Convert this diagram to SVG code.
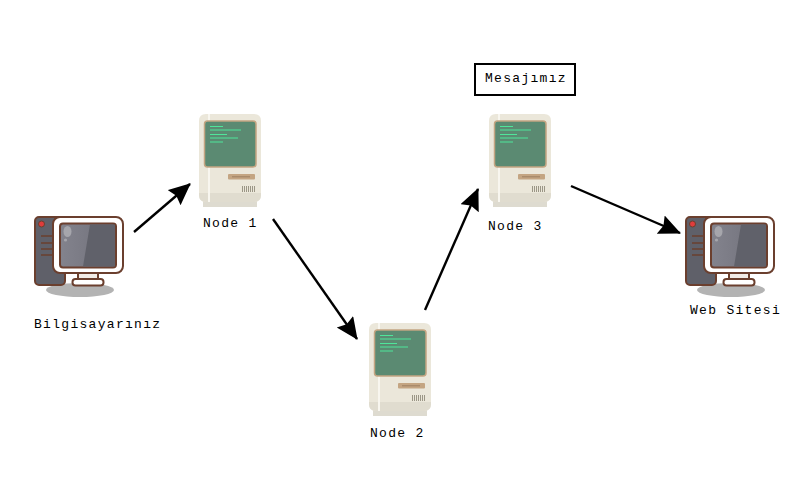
<svg xmlns="http://www.w3.org/2000/svg" xmlns:xlink="http://www.w3.org/1999/xlink" width="800" height="500" viewBox="0 0 800 500">
<style>
.t{font-family:"Liberation Mono",monospace;font-size:13px;fill:#000;letter-spacing:1.3px}
.c{stroke:#000;stroke-width:2.4;fill:none;stroke-linecap:butt}
.b{stroke:#6b3f2e;stroke-width:2;stroke-linejoin:round}
</style>
<defs>
<marker id="a" markerUnits="userSpaceOnUse" markerWidth="24" markerHeight="22" refX="21" refY="10" orient="auto"><path d="M0 0L22 10L0 20L3 10Z" fill="#000"/></marker>
<linearGradient id="g" x1="0" y1="0" x2="1" y2="0"><stop offset="0" stop-color="#83838d"/><stop offset="1" stop-color="#6f6f79"/></linearGradient>
<g id="pc">
<ellipse cx="80" cy="290" rx="34" ry="7" fill="#b3b3b3"/>
<rect class="b" x="35" y="217" width="30" height="68" rx="4" fill="#5f6069"/>
<circle cx="41.500" cy="224" r="3" fill="#e03c3c" stroke="#6b3f2e"/>
<path d="M41 236H53M41 243H53M41 249H53M41 255H53" stroke="#6b3f2e" stroke-width="1.500"/>
<rect class="b" x="78" y="272" width="20" height="9" fill="#f2ece6"/>
<rect class="b" x="72.500" y="279" width="31" height="6.500" rx="3" fill="#fff"/>
<rect class="b" x="53" y="217" width="70" height="56" rx="7" fill="#fff"/>
<rect class="b" x="60" y="223.500" width="56" height="44" rx="3" fill="url(#g)"/>
<path d="M90 224.500H115V266.500H83Z" fill="#60616a"/>
<ellipse cx="67.500" cy="231.500" rx="4" ry="5.500" fill="#a6a6ac"/>
<circle cx="65.500" cy="240" r="1.600" fill="#a6a6ac"/>
</g>
<g id="mac">
<rect x="203" y="198" width="54" height="9" fill="#dedbd0"/>
<path d="M206 114H254Q261 114 261 121V195Q261 202 254 202H206Q199 202 199 195V121Q199 114 206 114Z" fill="#ebe7da"/>
<path d="M199 193H261V195Q261 202 254 202H206Q199 202 199 195Z" fill="#e0dccf"/>
<rect x="208" y="114" width="2" height="88" fill="#f8f6ef"/>
<rect x="204.500" y="121" width="51.500" height="46" rx="3" fill="#5b8a72" stroke="#c4a582" stroke-width="1.500"/>
<path d="M210 126.500H223M210 130H241M210 134.500H227M210 138H238M210 142H223" stroke="#4fe59a" stroke-width="1.200"/>
<rect x="228" y="174" width="27" height="5.500" rx="1" fill="#c4a582"/>
<path d="M232 176.800H250" stroke="#94775b" stroke-width="0.800"/>
<path d="M242.500 186V192M244.500 186V192M246.500 186V192M248.500 186V192M250.500 186V192M252.500 186V192M254.500 186V192" stroke="#9b9686"/>
</g>
</defs>
<rect width="800" height="500" fill="#fff"/>
<g id="connectors">
<path class="c" d="M134 232L190 184" marker-end="url(#a)"/>
<path class="c" d="M273 219L357 339" marker-end="url(#a)"/>
<path class="c" d="M425 310L478 189" marker-end="url(#a)"/>
<path class="c" d="M571 186L680 233" marker-end="url(#a)"/>
</g>
<g id="computer"><use xlink:href="#pc" href="#pc"/><text class="t" x="34" y="328">Bilgisayarınız</text></g>
<g id="node1"><use xlink:href="#mac" href="#mac"/><text class="t" x="203" y="227">Node 1</text></g>
<g id="node2"><use xlink:href="#mac" href="#mac" x="170" y="209"/><text class="t" x="370" y="437">Node 2</text></g>
<g id="node3"><use xlink:href="#mac" href="#mac" x="290" y="0"/><text class="t" x="488" y="230">Node 3</text></g>
<g id="website"><use xlink:href="#pc" href="#pc" x="651" y="0"/><text class="t" x="690" y="314">Web Sitesi</text></g>
<g id="message"><rect x="475" y="64" width="100" height="31" fill="#fff" stroke="#000" stroke-width="2"/><text class="t" x="485" y="82">Mesajımız</text></g>
</svg>
